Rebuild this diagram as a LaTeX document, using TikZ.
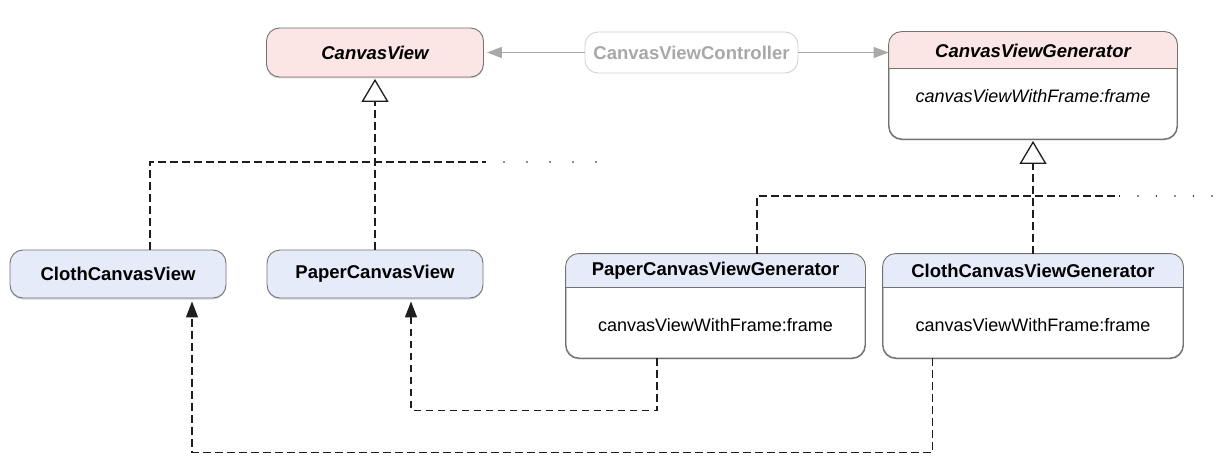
\documentclass[tikz,border=0pt]{standalone}
\usepackage{fontspec}
\setmainfont{Liberation Sans}
\usetikzlibrary{arrows.meta,shadows}
\definecolor{pinkfill}{RGB}{252,229,229}
\definecolor{bluefill}{RGB}{229,235,249}
\definecolor{boxline}{RGB}{115,115,115}
\definecolor{ctrlgray}{RGB}{168,168,168}
\definecolor{ctrlline}{RGB}{210,210,210}
\definecolor{inkline}{RGB}{30,30,30}
\newcommand\namefont{\fontsize{18.5}{22}\selectfont\bfseries}
\newcommand\methfont{\fontsize{18}{22}\selectfont}
\tikzset{
  softshadow/.style={drop shadow={shadow xshift=0pt, shadow yshift=-1.5pt, opacity=0.25, fill=black!60}},
  umlbox/.style={draw=boxline, line width=0.9pt, rounded corners=13pt, inner sep=0pt, softshadow},
  absbox/.style={umlbox, fill=pinkfill, font=\namefont\itshape},
  concbox/.style={umlbox, fill=bluefill, font=\namefont},
  classbox/.style={umlbox, fill=white},
  ctrlbox/.style={draw=ctrlline, line width=0.9pt, fill=white, rounded corners=13pt, inner sep=0pt, text=ctrlgray, font=\namefont},
  dsh/.style={draw=inkline, line width=1.3pt, dash pattern=on 7.5pt off 4.5pt},
  dotline/.style={draw=inkline, line width=1.8pt, line cap=round},
  inh/.style={dsh, -{Triangle[open, length=23pt, width=27pt, line width=1.3pt]}, shorten >=1.5pt},
  dep/.style={dsh, -{Triangle[length=16pt, width=12pt]}, shorten >=3pt},
  ctl/.style={draw=ctrlgray, line width=1.4pt, -{Triangle[length=15pt, width=11pt]}},
}
\begin{document}
\begin{tikzpicture}[x=1pt,y=-1pt]
\useasboundingbox (0,0) rectangle (1228,468);

% top row
\node[absbox, minimum width=217pt, minimum height=49pt] (cv) at (375,52.5) {CanvasView};
\node[ctrlbox, minimum width=213pt, minimum height=41pt] (ctrl) at (691.5,52.5) {CanvasViewController};

\node[classbox, minimum width=288pt, minimum height=107pt] (cvg) at (1033,85.5) {};
\begin{scope}
  \clip[rounded corners=13pt] (cvg.south west) rectangle (cvg.north east);
  \fill[pinkfill] (cvg.north west) rectangle ([yshift=-37pt]cvg.north east);
\end{scope}
\draw[boxline, line width=0.9pt] ([yshift=-37pt]cvg.north west) -- ([yshift=-37pt]cvg.north east);
\draw[boxline, line width=0.9pt, rounded corners=13pt] (cvg.south west) rectangle (cvg.north east);
\node[font=\namefont\itshape] (cvgT) at ([yshift=-19.5pt]cvg.north) {CanvasViewGenerator};
\node[font=\methfont\itshape] (cvgM) at ([yshift=-65pt]cvg.north) {canvasViewWithFrame:frame};

% bottom row
\node[concbox, minimum width=216pt, minimum height=48pt] (ccv) at (118,274) {ClothCanvasView};
\node[concbox, minimum width=216pt, minimum height=48pt] (pcv) at (375,274) {PaperCanvasView};

\node[classbox, minimum width=299pt, minimum height=104pt] (pcg) at (715.5,306) {};
\begin{scope}
  \clip[rounded corners=13pt] (pcg.south west) rectangle (pcg.north east);
  \fill[bluefill] (pcg.north west) rectangle ([yshift=-34pt]pcg.north east);
\end{scope}
\draw[boxline, line width=0.9pt] ([yshift=-34pt]pcg.north west) -- ([yshift=-34pt]pcg.north east);
\draw[boxline, line width=0.9pt, rounded corners=13pt] (pcg.south west) rectangle (pcg.north east);
\node[font=\namefont] (pcgT) at ([yshift=-17pt]pcg.north) {PaperCanvasViewGenerator};
\node[font=\methfont] (pcgM) at ([yshift=-72pt]pcg.north) {canvasViewWithFrame:frame};

\node[classbox, minimum width=300pt, minimum height=104pt] (ccg) at (1033,306) {};
\begin{scope}
  \clip[rounded corners=13pt] (ccg.south west) rectangle (ccg.north east);
  \fill[bluefill] (ccg.north west) rectangle ([yshift=-34pt]ccg.north east);
\end{scope}
\draw[boxline, line width=0.9pt] ([yshift=-34pt]ccg.north west) -- ([yshift=-34pt]ccg.north east);
\draw[boxline, line width=0.9pt, rounded corners=13pt] (ccg.south west) rectangle (ccg.north east);
\node[font=\namefont] (ccgT) at ([yshift=-17pt]ccg.north) {ClothCanvasViewGenerator};
\node[font=\methfont] (ccgM) at ([yshift=-72pt]ccg.north) {canvasViewWithFrame:frame};

% controller associations
\draw[ctl, shorten >=3pt] (ctrl.west) -- (cv.east);
\draw[ctl] (ctrl.east) -- (cvg.west |- ctrl.east);

% CanvasView hierarchy
\coordinate (h1) at (486,162);
\coordinate (h1e) at (600,162);
\draw[inh] (pcv.north) -- (cv.south);
\draw[dsh] ([xshift=32pt]ccv.north) |- (h1);
\draw[dotline, dash pattern=on 0pt off 23pt] ([xshift=18pt]h1) -- (h1e);

% CanvasViewGenerator hierarchy
\coordinate (h2) at (1120,196);
\coordinate (h2e) at (1228,196);
\draw[inh] (ccg.north) -- (cvg.south);
\draw[dsh] ([xshift=41.5pt]pcg.north) |- (h2);
\draw[dotline, dash pattern=on 0pt off 18.5pt] ([xshift=18pt]h2) -- (h2e);

% creation dependencies
\draw[dep] ([xshift=-58.5pt]pcg.south) -- ++(0,52) -| ([xshift=36pt]pcv.south);
\draw[dep] ([xshift=-100.5pt]ccg.south) -- ++(0,94) -| ([xshift=74pt]ccv.south);
\end{tikzpicture}
\end{document}
